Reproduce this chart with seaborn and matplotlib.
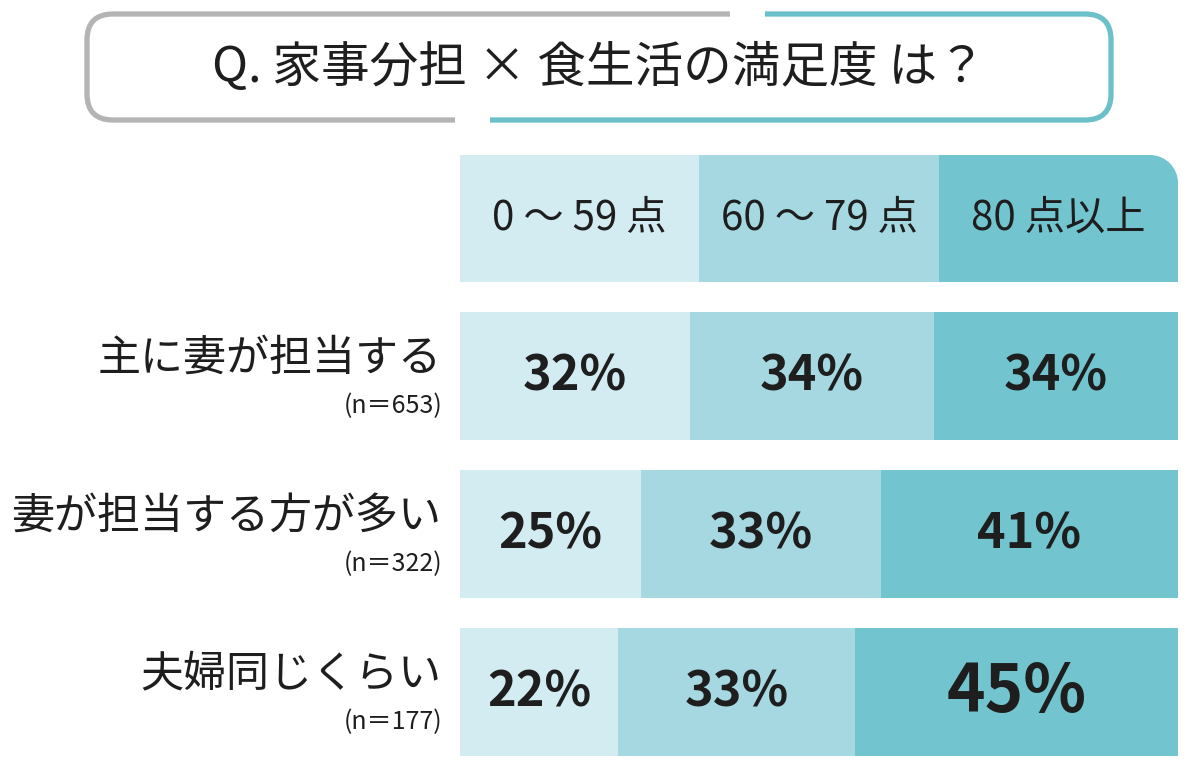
import numpy as np
import pandas as pd
import seaborn as sns
import matplotlib.pyplot as plt
from matplotlib.patches import FancyBboxPatch, Rectangle, Polygon, Circle

# data
groups = ['主に妻が担当する', '妻が担当する方が多い', '夫婦同じくらい']
group_n = [653, 322, 177]
score_bands = ['0 〜 59 点', '60 〜 79 点', '80 点以上']
share_low = [32, 25, 22]
share_mid = [34, 33, 33]
share_high = [34, 41, 45]
title = 'Q. 家事分担 × 食生活の満足度 は？'

band_colors = ['#d3ecf1', '#a5d8e1', '#72c4cf']
ink = '#1e1e1e'

sns.set_theme(style='white')
plt.rcParams['font.family'] = ['Noto Sans CJK JP', 'DejaVu Sans']

df = pd.DataFrame({'group': groups, 'low': share_low, 'mid': share_mid, 'high': share_high})
tot = df[['low', 'mid', 'high']].sum(axis=1)
df['c1'] = df['low'] / tot * 100
df['c2'] = (df['low'] + df['mid']) / tot * 100
df['c3'] = 100.0

W, H = 1200, 772
fig = plt.figure(figsize=(12, 7.72), dpi=100)

# full-figure axes in pixel units for the title box and header
bg = fig.add_axes([0, 0, 1, 1], zorder=0)
bg.set_xlim(0, W)
bg.set_ylim(H, 0)
bg.axis('off')

bar_l, bar_r, bar_t, bar_b = 460, 1178, 312, 756
bar_w = 0.81
ax = fig.add_axes([bar_l / W, 1 - bar_b / H, (bar_r - bar_l) / W, (bar_b - bar_t) / H], zorder=1)
ax.patch.set_alpha(0)

# stacked bars: draw cumulative totals back to front
for col, color in zip(['c3', 'c2', 'c1'], band_colors[::-1]):
    sns.barplot(data=df, x=col, y='group', color=color, width=bar_w, saturation=1,
                errorbar=None, edgecolor='none', linewidth=0, ax=ax)
ax.set_xlim(0, 100)
ax.set_ylim(len(groups) - 1 + bar_w / 2, -bar_w / 2)
ax.axis('off')

vmax = max(share_low + share_mid + share_high)
for i, row in df.iterrows():
    lefts = [0, row.c1, row.c2]
    rights = [row.c1, row.c2, row.c3]
    vals = [row.low, row.mid, row.high]
    for l, r, v in zip(lefts, rights, vals):
        ax.text((l + r) / 2, i, f'{v}%', ha='center', va='center',
                fontsize=47 if v == vmax else 35, fontweight='bold', color=ink)

tr = ax.get_yaxis_transform()
for i, (g, n) in enumerate(zip(groups, group_n)):
    ax.text(-0.026, i - 0.11, g, transform=tr, ha='right', va='center', fontsize=31, color=ink)
    ax.text(-0.024, i + 0.19, f'(n＝{n})', transform=tr, ha='right', va='center', fontsize=18, color=ink)

# header (legend) row with rounded top-right corner
hdr_t, hdr_b = 155, 282
col_w = (bar_r - bar_l) / len(score_bands)
rad = 28
for k, (band, color) in enumerate(zip(score_bands, band_colors)):
    x0 = bar_l + k * col_w
    if k == len(score_bands) - 1:
        bg.add_patch(Rectangle((x0, hdr_t + rad), col_w, hdr_b - hdr_t - rad, color=color, lw=0))
        bg.add_patch(Rectangle((x0, hdr_t), col_w - rad, rad + 1, color=color, lw=0))
        bg.add_patch(Circle((x0 + col_w - rad, hdr_t + rad), rad, color=color, lw=0))
    else:
        bg.add_patch(Rectangle((x0, hdr_t), col_w + 0.5, hdr_b - hdr_t, color=color, lw=0))
    bg.text(x0 + col_w / 2, (hdr_t + hdr_b) / 2, band, ha='center', va='center',
            fontsize=29, color=ink)

# title box, grey on the left, teal on the right
box_x0, box_y0, box_x1, box_y1 = 87, 14, 1111, 120
clips = {
    '#b4b4b4': [(0, -20), (730, -20), (730, 67), (455, 67), (455, 160), (0, 160)],
    '#6cc0c9': [(765, -20), (1200, -20), (1200, 160), (490, 160), (490, 67), (765, 67)],
}
for color, pts in clips.items():
    box = FancyBboxPatch((box_x0, box_y0), box_x1 - box_x0, box_y1 - box_y0,
                         boxstyle='round,pad=0,rounding_size=26', fill=False,
                         edgecolor=color, linewidth=3.8)
    bg.add_patch(box)
    box.set_clip_path(Polygon(pts, closed=True, transform=bg.transData))

bg.text((box_x0 + box_x1) / 2, 68, title, ha='center', va='center', fontsize=35, color=ink)

fig.savefig('out.png', dpi=100)
